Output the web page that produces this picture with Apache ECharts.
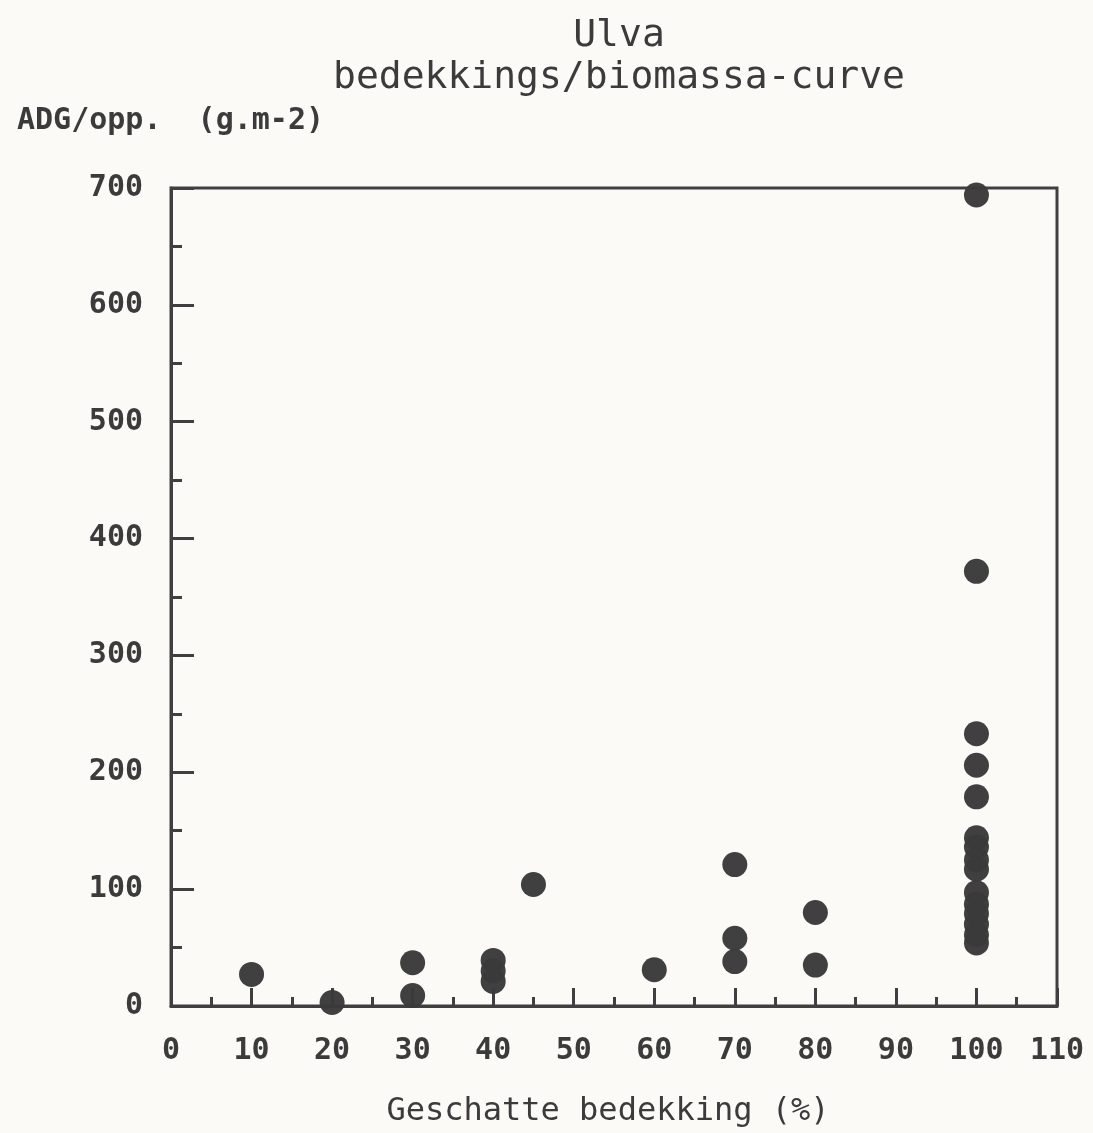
<!DOCTYPE html>
<html>
<head>
<meta charset="utf-8">
<script src="https://cdn.jsdelivr.net/npm/echarts@6/dist/echarts.min.js"></script>
<style>
html,body{margin:0;padding:0;background:#fbfaf6;}
#c{width:1093px;height:1133px;}
</style>
</head>
<body>
<div id="c"></div>
<script>
// Geschatte bedekking (%) and ADG/opp. (g.m-2)
const coverage = [10, 20, 30, 30, 40, 40, 40, 45, 60, 70, 70, 70, 80, 80,
  100, 100, 100, 100, 100, 100, 100, 100, 100, 100, 100, 100, 100, 100, 100];
const biomass = [27, 3, 37, 9, 39, 30, 21, 104, 31, 121, 58, 38, 80, 35,
  694, 372, 233, 206, 179, 144, 136, 125, 117, 97, 87, 79, 70, 61, 54];
const xTicks = [0, 10, 20, 30, 40, 50, 60, 70, 80, 90, 100, 110];
const yTicks = [0, 100, 200, 300, 400, 500, 600, 700];
const titleLines = ['Ulva', 'bedekkings/biomassa-curve'];
const yName = 'ADG/opp.  (g.m-2)';
const xName = 'Geschatte bedekking (%)';

const ink = '#3b3b3b';
const font = '"DejaVu Sans Mono", "Liberation Mono", monospace';
const points = coverage.map((c, i) => [c, biomass[i]]);

const chart = echarts.init(document.getElementById('c'));
chart.setOption({
  backgroundColor: '#fbfaf6',
  animation: false,
  title: [
    { text: titleLines[0], left: 614, top: 12, textAlign: 'center',
      textStyle: { fontFamily: font, fontSize: 38, fontWeight: 'normal', color: ink } },
    { text: titleLines[1], left: 614, top: 54, textAlign: 'center',
      textStyle: { fontFamily: font, fontSize: 38, fontWeight: 'normal', color: ink } },
    { text: yName, left: 12, top: 101,
      textStyle: { fontFamily: font, fontSize: 30, fontWeight: 'bold', color: ink } }
  ],
  grid: { left: 171, right: 36, top: 188, bottom: 126, show: true,
    borderColor: '#3f3f3f', borderWidth: 3, backgroundColor: 'transparent' },
  xAxis: {
    type: 'value', min: xTicks[0], max: xTicks[xTicks.length - 1], interval: 10,
    name: xName, nameLocation: 'middle', nameGap: 90,
    nameTextStyle: { fontFamily: font, fontSize: 32, color: ink, padding: [0, 12, 0, 0] },
    axisLine: { lineStyle: { color: '#3f3f3f', width: 3 } },
    axisTick: { inside: true, length: 18, lineStyle: { color: '#3f3f3f', width: 3 } },
    minorTick: { show: true, splitNumber: 2, length: 9, lineStyle: { color: '#3f3f3f', width: 3 } },
    axisLabel: { margin: 30, fontFamily: font, fontSize: 30, fontWeight: 'bold', color: ink,
      showMinLabel: true, showMaxLabel: true },
    splitLine: { show: false }
  },
  yAxis: {
    type: 'value', min: yTicks[0], max: yTicks[yTicks.length - 1], interval: 100,
    axisLine: { lineStyle: { color: '#3f3f3f', width: 3 } },
    axisTick: { inside: true, length: 23, lineStyle: { color: '#3f3f3f', width: 3 } },
    minorTick: { show: true, splitNumber: 2, length: 11, lineStyle: { color: '#3f3f3f', width: 3 } },
    axisLabel: { margin: 28, fontFamily: font, fontSize: 30, fontWeight: 'bold', color: ink },
    splitLine: { show: false }
  },
  series: [{
    type: 'scatter', data: points, symbol: 'circle', symbolSize: 25,
    itemStyle: { color: '#3a3a3a', opacity: 0.97 }
  }]
});
</script>
</body>
</html>
